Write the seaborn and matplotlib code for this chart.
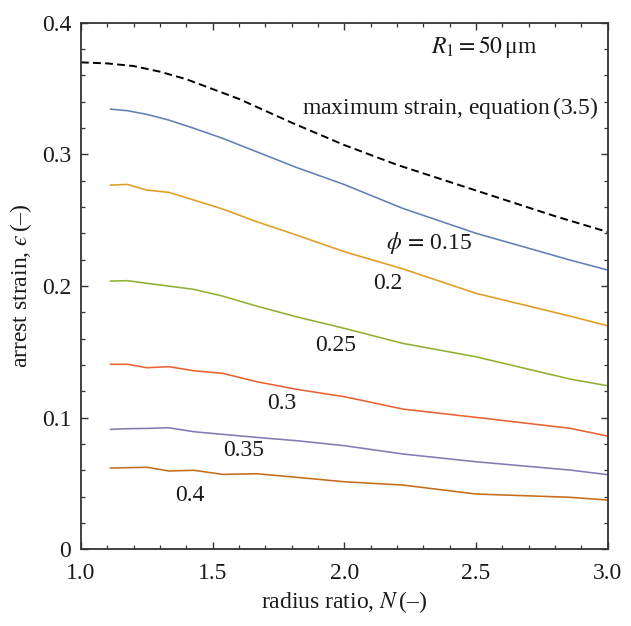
import numpy as np
import pandas as pd
import matplotlib
matplotlib.use("Agg")
import matplotlib.pyplot as plt
from matplotlib.ticker import MultipleLocator, FixedLocator, FixedFormatter
import seaborn as sns

# radius ratio N at which arrest strain was computed
radius_ratio = [1.111, 1.176, 1.25, 1.333, 1.429, 1.538, 1.667, 1.818, 2.0,
                2.222, 2.5, 2.857, 3.0]

# arrest strain for each volume fraction phi
phi_levels = ["0.15", "0.2", "0.25", "0.3", "0.35", "0.4"]
strain_015 = [0.3343, 0.3331, 0.3303, 0.3260, 0.3197, 0.3121, 0.3019, 0.2900,
              0.2770, 0.2589, 0.2400, 0.2197, 0.2121]
strain_020 = [0.2766, 0.2771, 0.2728, 0.2711, 0.2652, 0.2584, 0.2488, 0.2387,
              0.2260, 0.2130, 0.1944, 0.1771, 0.1698]
strain_025 = [0.2037, 0.2040, 0.2020, 0.1999, 0.1974, 0.1923, 0.1847, 0.1766,
              0.1678, 0.1564, 0.1462, 0.1293, 0.1242]
strain_030 = [0.1405, 0.1405, 0.1379, 0.1387, 0.1356, 0.1336, 0.1273, 0.1215,
              0.1159, 0.1065, 0.1002, 0.0919, 0.0860]
strain_035 = [0.0911, 0.0916, 0.0918, 0.0923, 0.0893, 0.0873, 0.0850, 0.0825,
              0.0787, 0.0724, 0.0665, 0.0602, 0.0567]
strain_040 = [0.0617, 0.0620, 0.0623, 0.0595, 0.0600, 0.0569, 0.0574, 0.0547,
              0.0513, 0.0488, 0.0420, 0.0395, 0.0374]

# maximum strain, equation (3.5)
max_N = [1.0, 1.1, 1.2, 1.3, 1.4, 1.6, 1.8, 2.0, 2.2, 2.4, 2.6, 2.8, 3.0]
max_strain = [0.3698, 0.3690, 0.3670, 0.3627, 0.3570, 0.3420, 0.3240, 0.3070,
              0.2920, 0.2790, 0.2660, 0.2530, 0.2410]

# axis ticks
x_ticks = [1.0, 1.5, 2.0, 2.5, 3.0]
x_tick_labels = ["1.0", "1.5", "2.0", "2.5", "3.0"]
y_ticks = [0, 0.1, 0.2, 0.3, 0.4]
y_tick_labels = ["0", "0.1", "0.2", "0.3", "0.4"]

palette = ["#5E81B5", "#E19C24", "#8FB032", "#EB6235", "#8778B3", "#C56E1A"]
FS = 17

sns.set_theme(style="ticks")
plt.rcParams["font.family"] = ["Liberation Serif", "DejaVu Serif"]
plt.rcParams["mathtext.fontset"] = "stix"

series = [strain_015, strain_020, strain_025, strain_030, strain_035, strain_040]
df = pd.concat(
    [pd.DataFrame({"N": radius_ratio, "strain": s, "phi": p})
     for s, p in zip(series, phi_levels)],
    ignore_index=True)
df_max = pd.DataFrame({"N": max_N, "strain": max_strain})

fig = plt.figure(figsize=(6.31, 6.26), dpi=100)
ax = fig.add_axes([0.1284, 0.1225, 0.8346, 0.8414])

sns.lineplot(data=df, x="N", y="strain", hue="phi", hue_order=phi_levels,
             palette=palette, linewidth=1.15, legend=False, ax=ax,
             estimator=None, sort=False)
sns.lineplot(data=df_max, x="N", y="strain", color="black", linewidth=1.4,
             ax=ax, estimator=None)
ax.lines[-1].set_dashes((4, 2.2))

ax.set_xlim(1.0, 3.0)
ax.set_ylim(0, 0.4)

ax.xaxis.set_major_locator(FixedLocator(x_ticks))
ax.xaxis.set_major_formatter(FixedFormatter(x_tick_labels))
ax.xaxis.set_minor_locator(MultipleLocator(0.1))
ax.yaxis.set_major_locator(FixedLocator(y_ticks))
ax.yaxis.set_major_formatter(FixedFormatter(y_tick_labels))
ax.yaxis.set_minor_locator(MultipleLocator(0.02))

ax.tick_params(which="both", direction="in", top=True, right=True,
               colors="#333333", labelcolor="#1a1a1a", labelsize=FS)
ax.tick_params(which="major", length=5, width=1.0)
ax.tick_params(which="minor", length=3, width=0.9)
ax.tick_params(axis="x", which="major", pad=9.5)
ax.tick_params(axis="y", which="major", pad=7)
for sp in ax.spines.values():
    sp.set_color("#333333")
    sp.set_linewidth(1.3)

ax.set_xlabel("radius ratio, $N\\,$(–)", fontsize=FS, color="#1a1a1a",
              labelpad=4)
ax.set_ylabel("arrest strain, $\u03f5\\,$(–)", fontsize=FS, color="#1a1a1a",
              labelpad=6)

txt = dict(fontsize=FS, color="#1a1a1a", ha="center", va="center")
ax.text(2.532, 0.3815, "$R_1 = 50\\,$μm", **txt)
ax.text(2.966, 0.335, "maximum strain, equation$\\,$(3.5)",
        **{**txt, "ha": "right"})
label_pos = [(2.32, 0.2326), (2.164, 0.2015), (1.967, 0.1551),
             (1.764, 0.1110), (1.619, 0.0750), (1.4125, 0.0406)]
for p, (lx, ly) in zip(phi_levels, label_pos):
    s = "$\\phi\\,=\\,$" + p if p == "0.15" else p
    ax.text(lx, ly, s, **txt)

fig.savefig("out.png", dpi=100)
